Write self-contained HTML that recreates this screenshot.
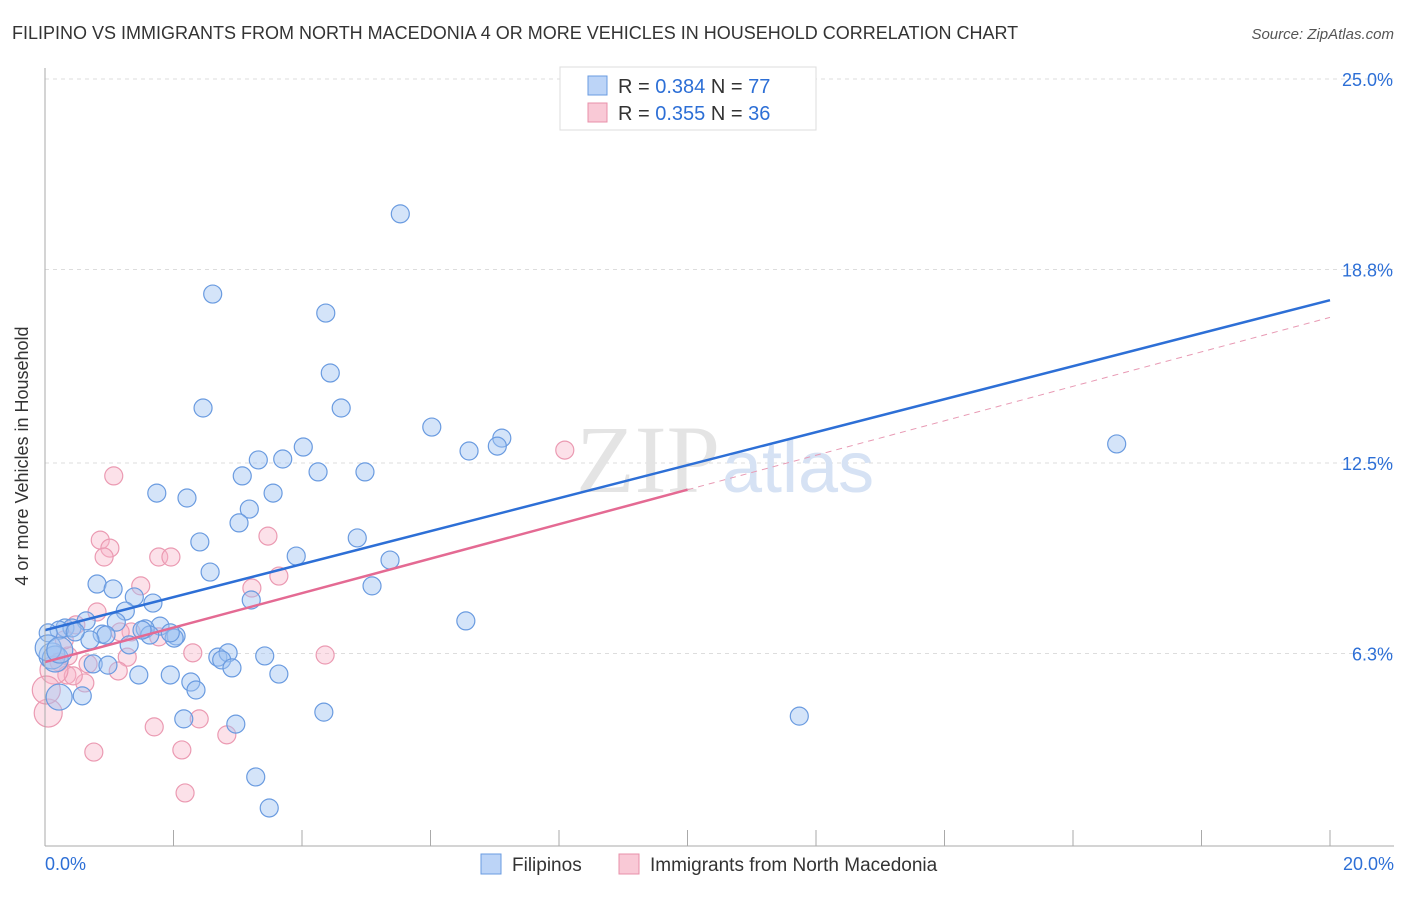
<!DOCTYPE html>
<html><head><meta charset="utf-8"><style>
body{margin:0;background:#fff;font-family:"Liberation Sans",sans-serif}
</style></head><body>
<svg width="1406" height="892" xmlns="http://www.w3.org/2000/svg" font-family="Liberation Sans, sans-serif">
<text x="12" y="39" font-size="18" fill="#333">FILIPINO VS IMMIGRANTS FROM NORTH MACEDONIA 4 OR MORE VEHICLES IN HOUSEHOLD CORRELATION CHART</text>
<text x="1394" y="39" font-size="15" fill="#555" font-style="italic" text-anchor="end">Source: ZipAtlas.com</text>
<g id="grid"></g>
<text x="720" y="492" font-size="96" fill="#e4e4e4" text-anchor="end" font-family="Liberation Serif, serif">ZIP</text>
<text x="722" y="492" font-size="72" fill="#d6e2f4">atlas</text>
<g id="pts"></g>
<g id="lines"></g>
<line x1="45" y1="68" x2="45" y2="846" stroke="#aaa"/>
<line x1="45" y1="846" x2="1394" y2="846" stroke="#aaa"/>
<g id="ticks"></g>
<text x="28" y="456" font-size="18" fill="#333" text-anchor="middle" transform="rotate(-90 28 456)">4 or more Vehicles in Household</text>
<g>
<rect x="560" y="67" width="256" height="63" fill="#fff" stroke="#ddd"/>
<rect x="588" y="76" width="19" height="19" fill="#bcd4f7" stroke="#6a9be0"/>
<rect x="588" y="103" width="19" height="19" fill="#f9c9d6" stroke="#e890aa"/>
<text x="618" y="93" font-size="20" fill="#333">R = <tspan fill="#2d6fd6">0.384</tspan>   N = <tspan fill="#2d6fd6">77</tspan></text>
<text x="618" y="120" font-size="20" fill="#333">R = <tspan fill="#2d6fd6">0.355</tspan>   N = <tspan fill="#2d6fd6">36</tspan></text>
</g>
<g>
<rect x="481" y="854" width="20" height="20" fill="#bcd4f7" stroke="#6a9be0"/>
<text x="512" y="871" font-size="19" fill="#333">Filipinos</text>
<rect x="619" y="854" width="20" height="20" fill="#f9c9d6" stroke="#e890aa"/>
<text x="650" y="871" font-size="19" fill="#333">Immigrants from North Macedonia</text>
</g>
</svg>
<script>
const yTicks=[25.0,18.8,12.5,6.3];
const yTickLabels=["25.0%","18.8%","12.5%","6.3%"];
const xTickLabels=["0.0%","20.0%"];
const bluePx=[[400,214],[213,294],[326,313],[330,373],[203,408],[341,408],[432,427],[303,447],[502,438],[469,451],[497,446],[1117,444],[258,460],[283,459],[242,476],[318,472],[365,472],[157,493],[187,498],[273,493],[249,509],[239,523],[200,542],[357,538],[296,556],[390,560],[210,572],[97,584],[113,589],[372,586],[134,597],[153,603],[251,600],[125,611],[466,621],[116,622],[160,626],[86,621],[65,628],[72,628],[59,630],[48,633],[102,634],[106,635],[145,629],[150,635],[176,636],[174,638],[90,640],[129,645],[218,657],[228,653],[222,660],[265,656],[52,656],[55,659],[93,664],[108,665],[232,668],[139,675],[170,675],[279,674],[191,682],[196,690],[59,697],[82,696],[184,719],[236,724],[324,712],[799,716],[256,777],[269,808],[48,648],[60,650],[142,630],[170,633],[75,632]];
const pinkPx=[[114,476],[100,540],[110,548],[104,557],[159,557],[171,557],[268,536],[141,586],[252,588],[279,576],[97,612],[76,625],[131,632],[159,637],[127,657],[193,653],[325,655],[59,662],[68,656],[67,675],[85,683],[118,671],[73,676],[54,670],[48,713],[154,727],[199,719],[182,750],[227,735],[94,752],[185,793],[565,450],[64,640],[120,632],[88,664],[46,690]];
// convert read pixel positions to data values (x %, y %)
const blueX=bluePx.map(p=>+((p[0]-45)/64.25).toFixed(2));
const blueY=bluePx.map(p=>+((847-p[1])/30.72).toFixed(2));
const pinkX=pinkPx.map(p=>+((p[0]-45)/64.25).toFixed(2));
const pinkY=pinkPx.map(p=>+((847-p[1])/30.72).toFixed(2));
const blueTrend=[7.06,17.8];   // y at x=0 and x=20
const pinkTrend=[6.02,17.24];
const pinkSolidEnd=10;
const sx=v=>45+v*64.25, sy=v=>847-v*30.72;
const NS="http://www.w3.org/2000/svg";
function mk(t,a,parent){const e=document.createElementNS(NS,t);for(const k in a)e.setAttribute(k,a[k]);document.getElementById(parent).appendChild(e);return e;}
yTicks.forEach((t,i)=>{
 const g=mk('line',{x1:45,x2:1394,y1:sy(t),y2:sy(t),stroke:'#ddd','stroke-dasharray':'4,4'},'grid');
 
 
 const l=mk('text',{x:1393,y:sy(t)+7,'font-size':18,fill:'#2d6fd6','text-anchor':'end'},'ticks');
 l.textContent=yTickLabels[i];
 
 
});
for(let i=0;i<=10;i++){
 const t=mk('line',{x1:sx(i*2),x2:sx(i*2),y1:830,y2:846,stroke:'#aaa'},'ticks');
 
 
}
[[0,'start',45],[1,'end',1394]].forEach(([i,a,x])=>{
 const l=mk('text',{x:x,y:870,'font-size':18,fill:'#2d6fd6','text-anchor':a},'ticks');
 l.textContent=xTickLabels[i];
 
 
});
pinkX.forEach((x,i)=>{
 const c=mk('circle',{cx:sx(x),cy:sy(pinkY[i]),r:(x<0.2?14:9),fill:'rgba(247,180,200,0.4)',stroke:'#eb9ab2','stroke-width':1.2},'pts');
 
 
});
blueX.forEach((x,i)=>{
 const c=mk('circle',{cx:sx(x),cy:sy(blueY[i]),r:(x<0.3&&blueY[i]<6.6&&blueY[i]>4.5?13:9),fill:'rgba(160,196,242,0.45)',stroke:'#6a9be0','stroke-width':1.2},'pts');
 
 
});
const pAt=x=>pinkTrend[0]+(pinkTrend[1]-pinkTrend[0])*x/20;
let l=mk('line',{x1:sx(0),y1:sy(blueTrend[0]),x2:sx(20),y2:sy(blueTrend[1]),stroke:'#2d6fd6','stroke-width':2.5},'lines');


l=mk('line',{x1:sx(0),y1:sy(pAt(0)),x2:sx(pinkSolidEnd),y2:sy(pAt(pinkSolidEnd)),stroke:'#e46a93','stroke-width':2.5},'lines');


l=mk('line',{x1:sx(pinkSolidEnd),y1:sy(pAt(pinkSolidEnd)),x2:sx(20),y2:sy(pAt(20)),stroke:'#e89ab4','stroke-width':1,'stroke-dasharray':'6,5'},'lines');


</script>
</body></html>
